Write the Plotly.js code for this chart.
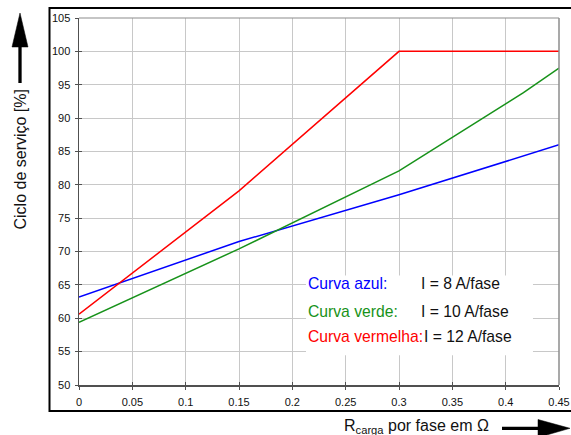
<!DOCTYPE html>
<html>
<head>
<meta charset="utf-8">
<script src="https://cdn.plot.ly/plotly-3.0.1.min.js"></script>
<style>html,body{margin:0;padding:0;background:#fff;}#chart{width:571px;height:435px;}</style>
</head>
<body>
<div id="chart"></div>
<script>
// ---- data ----
const blueX  = [0, 0.15, 0.3, 0.45];
const blueY  = [63.2, 71.5, 78.5, 86.0];
const greenX = [0, 0.15, 0.3, 0.4167, 0.45];
const greenY = [59.4, 70.4, 82.1, 93.8, 97.5];
const redX   = [0, 0.15, 0.3, 0.45];
const redY   = [60.6, 79.1, 100, 100];

const xTickVals = [0, 0.05, 0.1, 0.15, 0.2, 0.25, 0.3, 0.35, 0.4, 0.45];
const xTickText = ['0', '0.05', '0.1', '0.15', '0.2', '0.25', '0.3', '0.35', '0.4', '0.45'];
const yTickVals = [50, 55, 60, 65, 70, 75, 80, 85, 90, 95, 100, 105];

const legendNames  = ['Curva azul:', 'Curva verde:', 'Curva vermelha:'];
const legendValues = ['I = 8 A/fase', 'I = 10 A/fase', 'I = 12 A/fase'];
const yTitle = 'Ciclo de serviço [%]';
const xTitle = 'R<sub>carga</sub> por fase em Ω';

const BLUE = '#0000ff', GREEN = '#17921a', RED = '#ff0000';
const FONT = 'Arial, "Liberation Sans", sans-serif';

const traces = [
  {x: blueX, y: blueY, mode: 'lines', line: {color: BLUE, width: 1.5}, showlegend: false, hoverinfo: 'skip'},
  {x: greenX, y: greenY, mode: 'lines', line: {color: GREEN, width: 1.5}, showlegend: false, hoverinfo: 'skip'},
  {x: redX, y: redY, mode: 'lines', line: {color: RED, width: 1.5}, showlegend: false, hoverinfo: 'skip'},
  {x: [], y: [], xaxis: 'x2', yaxis: 'y2', mode: 'lines', showlegend: false, hoverinfo: 'skip'}
];

// plot area in pixels: left 79, right 559, top 18, bottom 385
const L = 79, W = 480, B = 385, H = 367;
const px = v => (v - L) / W;
const py = v => (B - v) / H;

const rowsY = [65.15, 61.05, 57.2];
const annotations = [];
legendNames.forEach((n, i) => {
  annotations.push({x: 0.2137, y: rowsY[i], xref: 'x', yref: 'y', xanchor: 'left', yanchor: 'middle',
    text: n, showarrow: false, font: {family: FONT, size: 15.7, color: [BLUE, GREEN, RED][i]}, borderpad: 0});
  annotations.push({x: i === 2 ? 0.3222 : 0.3197, y: rowsY[i], xref: 'x', yref: 'y', xanchor: 'left', yanchor: 'middle',
    text: legendValues[i], showarrow: false, font: {family: FONT, size: 15.7, color: '#111'}, borderpad: 0});
});
annotations.push({x: px(19.5), y: py(159), xref: 'paper', yref: 'paper', xanchor: 'center', yanchor: 'middle',
  text: yTitle, textangle: -90, showarrow: false, font: {family: FONT, size: 16, color: '#111'}});
annotations.push({x: px(342), y: py(427), xref: 'paper', yref: 'paper', xanchor: 'left', yanchor: 'middle',
  text: xTitle, showarrow: false, font: {family: FONT, size: 16, color: '#111'}});

const P = (pts) => 'M ' + pts.map(p => px(p[0]) + ',' + py(p[1])).join(' L ') + ' Z';

const shapes = [
  // outer frame
  {type: 'rect', xref: 'paper', yref: 'paper', x0: px(49.5), x1: px(573), y0: py(411), y1: py(8),
   line: {color: '#000', width: 2}, fillcolor: 'rgba(0,0,0,0)', layer: 'above'},
  // top and right borders of plot area
  {type: 'line', xref: 'paper', yref: 'paper', x0: 0, x1: 1, y0: 1, y1: 1, line: {color: '#8c8c8c', width: 1.2}, layer: 'above'},
  {type: 'line', xref: 'paper', yref: 'paper', x0: 1, x1: 1, y0: 0, y1: 1, line: {color: '#8c8c8c', width: 1.5}, layer: 'above'},
  // white box behind the text legend
  {type: 'rect', xref: 'x', yref: 'y', x0: 0.2128, x1: 0.4256, y0: 54.45, y1: 66.4,
   line: {width: 0}, fillcolor: '#ffffff', layer: 'between'},
  // y arrow
  {type: 'line', xref: 'paper', yref: 'paper', x0: px(20), x1: px(20), y0: py(83), y1: py(46), line: {color: '#000', width: 3.3}},
  {type: 'path', xref: 'paper', yref: 'paper', path: P([[12, 47], [28, 47], [20, 13]]), fillcolor: '#000', line: {color: '#000', width: 0.5}},
  // x arrow
  {type: 'line', xref: 'paper', yref: 'paper', x0: px(502), x1: px(540), y0: py(428.3), y1: py(428.3), line: {color: '#000', width: 3.3}},
  {type: 'path', xref: 'paper', yref: 'paper', path: P([[538, 419.5], [538, 437.5], [570, 428.3]]), fillcolor: '#000', line: {color: '#000', width: 0.5}}
];

const layout = {
  width: 571, height: 435,
  margin: {l: 79, r: 12, t: 18, b: 50, pad: 0},
  paper_bgcolor: '#ffffff', plot_bgcolor: '#ffffff',
  font: {family: FONT, size: 11, color: '#111'},
  showlegend: false,
  xaxis: {range: [0, 0.45], tickvals: xTickVals, ticktext: xTickText, showgrid: true, gridcolor: '#c8c8c8', gridwidth: 1,
    zeroline: false, showline: true, linecolor: '#505050', linewidth: 1.5, ticks: 'outside', ticklen: 3, tickcolor: '#505050',
    tickwidth: 1, ticklabelstandoff: 3, tickfont: {family: FONT, size: 11, color: '#111'}, fixedrange: true},
  yaxis: {range: [50, 105], tickvals: yTickVals, showgrid: true, gridcolor: '#c8c8c8', gridwidth: 1,
    zeroline: false, showline: true, linecolor: '#505050', linewidth: 1.5, ticks: 'outside', ticklen: 3, tickcolor: '#505050',
    tickwidth: 1, ticklabelstandoff: 2, tickfont: {family: FONT, size: 11, color: '#111'}, fixedrange: true},
  xaxis2: {overlaying: 'x', anchor: 'y2', range: [0, 0.45], tickvals: xTickVals, showticklabels: false, showgrid: false,
    zeroline: false, showline: false, ticks: 'inside', ticklen: 3, tickcolor: '#505050', tickwidth: 1},
  yaxis2: {overlaying: 'y', anchor: 'x2', range: [50, 105], tickvals: yTickVals, showticklabels: false, showgrid: false,
    zeroline: false, showline: false, ticks: 'inside', ticklen: 3, tickcolor: '#505050', tickwidth: 1},
  annotations: annotations,
  shapes: shapes
};

Plotly.newPlot('chart', traces, layout, {staticPlot: true, displayModeBar: false});
</script>
</body>
</html>
